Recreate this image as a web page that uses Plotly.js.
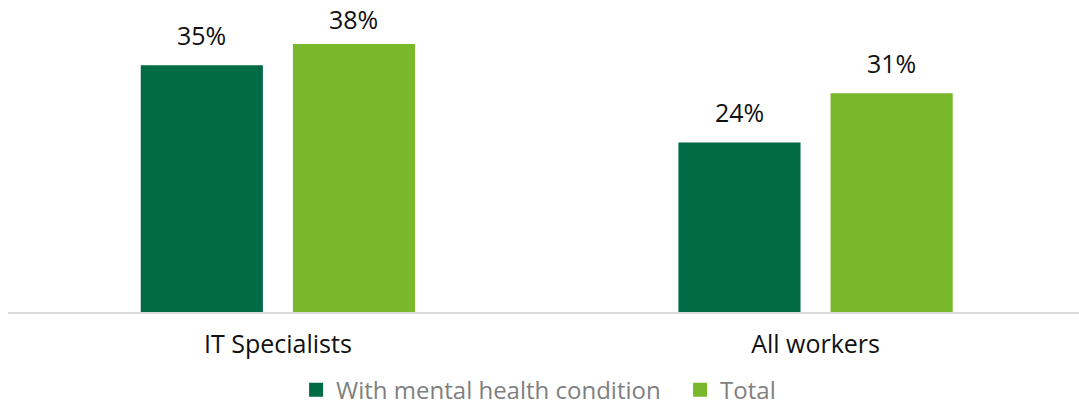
<!DOCTYPE html>
<html>
<head>
<meta charset="utf-8">
<script src="https://cdn.plot.ly/plotly-3.0.1.min.js"></script>
<style>html,body{margin:0;padding:0;background:#fff;}#chart{width:1079px;height:405px;}</style>
</head>
<body>
<div id="chart"></div>
<script>
var categories = ["IT Specialists", "All workers"];
var seriesNames = ["With mental health condition", "Total"];
var withCondition = [35, 24];
var total = [38, 31];
var colors = ["#006b45", "#78b82a"];

var FONT = "'Open Sans', Roboto, 'DejaVu Sans', sans-serif";
var seriesValues = [withCondition, total];

var W = 1079, H = 405;
var M = { l: 8, r: 0, t: 31, b: 93 };
var Y_MAX = 40;
var plotH = H - M.t - M.b;

var traces = seriesValues.map(function (vals, i) {
  return {
    type: "bar",
    name: seriesNames[i],
    x: categories,
    y: vals,
    marker: { color: colors[i], line: { color: colors[i], width: 2 } },
    hoverinfo: "none"
  };
});

// keep value labels inside the top headroom (labels near the top get a smaller gap)
var annotations = [];
seriesValues.forEach(function (vals, i) {
  vals.forEach(function (v, j) {
    var barTopPx = M.t + plotH * (1 - v / Y_MAX);
    var baseline = barTopPx - 20;
    var push = Math.max(0, 30 - baseline);
    annotations.push({
      x: categories[j],
      y: v,
      xref: "x",
      yref: "y",
      text: v + "%",
      showarrow: false,
      xanchor: "center",
      yanchor: "bottom",
      xshift: i === 0 ? -76 : 76,
      yshift: 12 - push,
      font: { family: FONT, size: 25, color: "#111111" }
    });
  });
});

var layout = {
  width: W,
  height: H,
  margin: { l: M.l, r: M.r, t: M.t, b: M.b, autoexpand: false },
  paper_bgcolor: "#ffffff",
  plot_bgcolor: "#ffffff",
  barmode: "group",
  bargap: 0.434,
  bargroupgap: 0.2105,
  showlegend: true,
  legend: {
    orientation: "h",
    x: 0.269,
    xanchor: "left",
    yref: "container",
    y: 0.092,
    yanchor: "top",
    entrywidth: 339,
    entrywidthmode: "pixels",
    font: { family: FONT, size: 24, color: "#7f7f7f" },
    itemclick: false
  },
  xaxis: {
    type: "category",
    range: [-0.502, 1.490],
    showline: true,
    linecolor: "#d9d9d9",
    linewidth: 2,
    ticks: "",
    ticklabelstandoff: 9,
    showgrid: false,
    zeroline: false,
    automargin: false,
    tickfont: { family: FONT, size: 25, color: "#111111" }
  },
  yaxis: {
    range: [0, Y_MAX],
    showgrid: false,
    zeroline: false,
    showticklabels: false,
    showline: false,
    ticks: ""
  },
  annotations: annotations
};

Plotly.newPlot("chart", traces, layout, { displayModeBar: false, staticPlot: true });
</script>
</body>
</html>
